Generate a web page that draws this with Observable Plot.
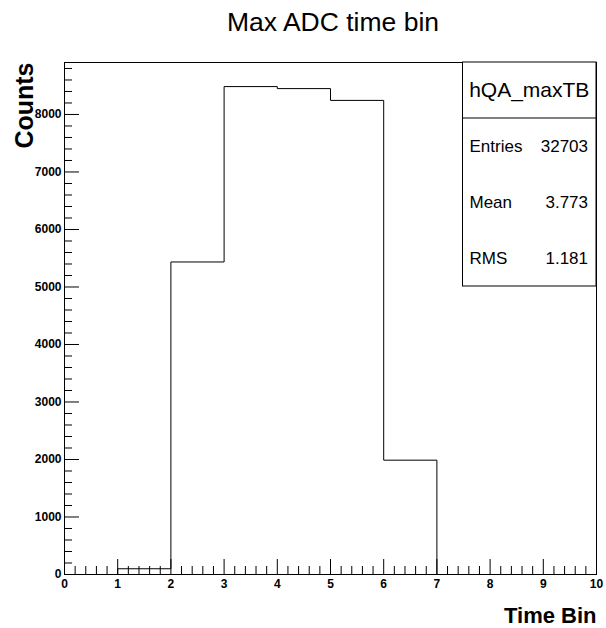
<!DOCTYPE html>
<html>
<head>
<meta charset="utf-8">
<script src="https://cdn.jsdelivr.net/npm/d3@7"></script>
<script src="https://cdn.jsdelivr.net/npm/@observablehq/plot@0.6"></script>
<style>
  html, body { margin: 0; padding: 0; background: #fff; }
  #chart { width: 606px; height: 628px; }
</style>
</head>
<body>
<div id="chart"></div>
<script>
// ---- data ----
const binLow = [0, 1, 2, 3, 4, 5, 6, 7, 8, 9];
const counts = [0, 100, 5435, 8485, 8450, 8245, 1988, 0, 0, 0];
const xMajorTicks = [0, 1, 2, 3, 4, 5, 6, 7, 8, 9, 10];
const yMajorTicks = [0, 1000, 2000, 3000, 4000, 5000, 6000, 7000, 8000];
const title = "Max ADC time bin";
const xTitle = "Time Bin";
const yTitle = "Counts";
const histName = "hQA_maxTB";
const statLabels = ["Entries", "Mean", "RMS"];
const statValues = ["32703", "3.773", "1.181"];

// ---- derived ----
const steps = binLow.map((x, i) => ({x, y: counts[i]}))
  .concat([{x: binLow[binLow.length - 1] + 1, y: counts[counts.length - 1]}]);
const xMinorTicks = d3.range(0, 10.0001, 0.2).filter(v => Math.abs(v - Math.round(v)) > 1e-6);
const yMinorTicks = d3.range(0, 8900, 200).filter(v => v % 1000 !== 0);

const W = 606, H = 628, mL = 64, mR = 10, mT = 62, mB = 54;
const fw = W - mL - mR, fh = H - mT - mB;
const font = "'Liberation Sans', Arial, Helvetica, sans-serif";

const chart = Plot.plot({
  width: W, height: H,
  marginLeft: mL, marginRight: mR, marginTop: mT, marginBottom: mB,
  style: {fontFamily: font, fontSize: "12px", fontWeight: "bold", background: "#fff", color: "#000"},
  x: {domain: [0, 10]},
  y: {domain: [0, 8904]},
  marks: [
    Plot.frame({stroke: "#000", strokeWidth: 1}),
    // inward ticks
    Plot.tickX(xMajorTicks, {x: d => d, stroke: "#000", insetTop: fh - 15}),
    Plot.tickX(xMinorTicks, {x: d => d, stroke: "#000", insetTop: fh - 8}),
    Plot.tickY(yMajorTicks, {y: d => d, stroke: "#000", insetRight: fw - 15}),
    Plot.tickY(yMinorTicks, {y: d => d, stroke: "#000", insetRight: fw - 8}),
    // tick labels
    Plot.axisX({ticks: xMajorTicks, tickSize: 0, tickPadding: 5, tickFormat: d => String(d), label: null}),
    Plot.axisY({ticks: yMajorTicks, tickSize: 0, tickPadding: 3, tickFormat: d => String(d), label: null}),
    // histogram outline
    Plot.line(steps, {x: "x", y: "y", curve: "step-after", stroke: "#000", strokeWidth: 1}),
    // titles
    Plot.text([title], {frameAnchor: "top", text: d => d, dx: 2.5, dy: -40, lineAnchor: "middle",
      fontSize: 26.5, fontWeight: "normal", fill: "#000"}),
    Plot.text([xTitle], {frameAnchor: "bottom-right", text: d => d, textAnchor: "end", dy: 41, lineAnchor: "middle",
      fontSize: 22, fontWeight: "bold", fill: "#000"}),
    Plot.text([yTitle], {frameAnchor: "top-left", text: d => d, textAnchor: "end", rotate: -90, dx: -40, dy: 0,
      lineAnchor: "middle", fontSize: 25, fontWeight: "bold", fill: "#000"})
  ]
});

document.getElementById("chart").appendChild(chart);

// ---- statistics box (legend-like overlay) ----
const svg = d3.select(chart);
const bx0 = 462.5, bx1 = W - mR, by0 = mT, by1 = 286, hdr = 118;
const g = svg.append("g").attr("font-family", font).attr("font-weight", "normal").attr("fill", "#000");
g.append("rect").attr("x", bx0).attr("y", by0).attr("width", bx1 - bx0).attr("height", by1 - by0)
  .attr("fill", "#fff").attr("stroke", "#000").attr("stroke-width", 1);
g.append("line").attr("x1", bx0).attr("x2", bx1).attr("y1", hdr).attr("y2", hdr).attr("stroke", "#000");
g.append("text").attr("x", (bx0 + bx1) / 2).attr("y", (by0 + hdr) / 2).attr("dy", "0.35em")
  .attr("text-anchor", "middle").attr("font-size", 21).text(histName);
const rowH = (by1 - hdr) / statLabels.length;
statLabels.forEach((lab, i) => {
  const cy = hdr + rowH * (i + 0.5);
  g.append("text").attr("x", bx0 + 7).attr("y", cy).attr("dy", "0.35em").attr("text-anchor", "start")
    .attr("font-size", 17).text(lab);
  g.append("text").attr("x", bx1 - 8).attr("y", cy).attr("dy", "0.35em").attr("text-anchor", "end")
    .attr("font-size", 17).text(statValues[i]);
});
</script>
</body>
</html>
